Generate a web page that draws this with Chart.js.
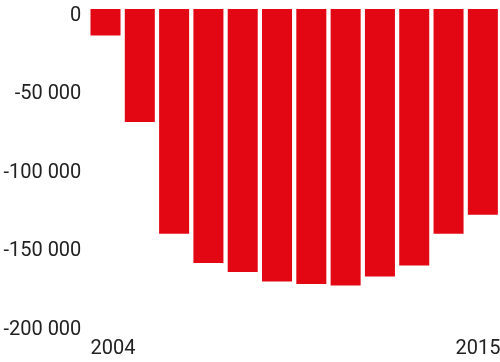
<!DOCTYPE html>
<html>
<head>
<meta charset="utf-8">
<script src="https://cdn.jsdelivr.net/npm/chart.js@4"></script>
<style>
html,body{margin:0;padding:0;background:#fff;}
#wrap{width:500px;height:362px;position:relative;}
</style>
</head>
<body>
<div id="wrap"><canvas id="c" width="500" height="362"></canvas></div>
<script>
const years = ['2004','2005','2006','2007','2008','2009','2010','2011','2012','2013','2014','2015'];
const values = [-16800, -71900, -142900, -161600, -167300, -173300, -174900, -175800, -170100, -163100, -142900, -130900];
const yTicks = [0, -50000, -100000, -150000, -200000];
const shownYears = ['2004','2015'];

function fmt(v){
  const s = Math.abs(v).toString().replace(/\B(?=(\d{3})+(?!\d))/g, ' ');
  return (v < 0 ? '-' : '') + s;
}

new Chart(document.getElementById('c'), {
  type: 'bar',
  data: {
    labels: years,
    datasets: [{
      data: values,
      backgroundColor: '#e30613',
      borderWidth: 0,
      barPercentage: 0.875,
      categoryPercentage: 1.0
    }]
  },
  options: {
    responsive: false,
    animation: false,
    devicePixelRatio: 1,
    layout: { padding: { top: 9, right: 0, bottom: 0, left: 0 } },
    plugins: { legend: { display: false }, tooltip: { enabled: false } },
    scales: {
      x: {
        grid: { display: false, drawTicks: false },
        border: { display: false },
        ticks: {
          autoSkip: false,
          maxRotation: 0,
          minRotation: 0,
          padding: 13,
          color: '#222',
          font: { family: 'Roboto', size: 20 },
          callback: function(val, idx){
            const l = years[idx];
            if (l === shownYears[0]) return '   ' + l;
            if (l === shownYears[1]) return l + '  ';
            return '';
          }
        },
        afterFit: function(s){ s.height = 38.5; s.paddingLeft = 0; s.paddingRight = 0; }
      },
      y: {
        min: -200000,
        max: 0,
        grid: { display: false, drawTicks: false },
        border: { display: false },
        afterBuildTicks: function(s){ s.ticks = yTicks.map(v => ({ value: v })); },
        ticks: {
          padding: 7,
          labelOffset: 6.5,
          color: '#222',
          font: { family: 'Roboto', size: 20 },
          callback: function(v){ return fmt(v); }
        },
        afterFit: function(s){ s.width = 88.35; s.paddingTop = 0; s.paddingBottom = 0; }
      }
    }
  }
});
</script>
</body>
</html>
